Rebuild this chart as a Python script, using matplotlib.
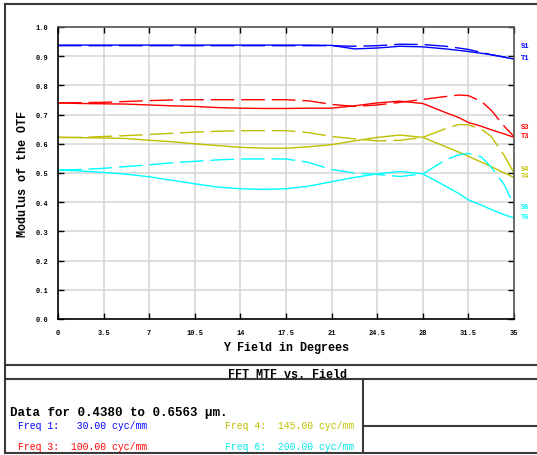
import matplotlib
matplotlib.use("Agg")
import matplotlib.pyplot as plt
from matplotlib.lines import Line2D

# field positions (degrees)
field = [0, 1.75, 3.5, 5.25, 7, 8.75, 10.5, 12.25, 14, 15.75, 17.5, 19.25, 21,
         22.75, 24.5, 26.25, 28, 29.75, 30.75, 31.5, 32.5, 33.25, 34.25, 35]

# Freq 1 (30 cyc/mm)
f1_tan = [0.938, 0.938, 0.938, 0.938, 0.938, 0.938, 0.938, 0.938, 0.938, 0.938, 0.938, 0.938, 0.937,
          0.925, 0.928, 0.934, 0.932, 0.925, 0.920, 0.916, 0.910, 0.905, 0.897, 0.890]
f1_sag = [0.936, 0.936, 0.936, 0.936, 0.936, 0.936, 0.936, 0.936, 0.936, 0.936, 0.936, 0.936, 0.936,
          0.934, 0.936, 0.941, 0.940, 0.934, 0.928, 0.923, 0.913, 0.905, 0.897, 0.890]
# Freq 3 (100 cyc/mm)
f3_tan = [0.740, 0.738, 0.737, 0.736, 0.733, 0.730, 0.728, 0.724, 0.722, 0.721, 0.721, 0.722, 0.722,
          0.730, 0.740, 0.746, 0.738, 0.707, 0.690, 0.673, 0.660, 0.648, 0.634, 0.622]
f3_sag = [0.740, 0.741, 0.742, 0.745, 0.748, 0.750, 0.751, 0.751, 0.751, 0.751, 0.751, 0.747, 0.735,
          0.728, 0.733, 0.742, 0.752, 0.762, 0.767, 0.765, 0.745, 0.715, 0.660, 0.625]
# Freq 4 (145 cyc/mm)
f4_tan = [0.622, 0.621, 0.620, 0.618, 0.612, 0.607, 0.600, 0.594, 0.588, 0.585, 0.585, 0.590, 0.597,
          0.610, 0.622, 0.630, 0.622, 0.590, 0.572, 0.557, 0.537, 0.522, 0.500, 0.485]
f4_sag = [0.622, 0.622, 0.625, 0.628, 0.632, 0.636, 0.640, 0.643, 0.645, 0.645, 0.645, 0.638, 0.625,
          0.617, 0.610, 0.612, 0.622, 0.652, 0.666, 0.665, 0.650, 0.625, 0.560, 0.500]
# Freq 6 (200 cyc/mm)
f6_tan = [0.510, 0.507, 0.502, 0.496, 0.487, 0.475, 0.463, 0.452, 0.446, 0.444, 0.446, 0.455, 0.470,
          0.485, 0.497, 0.505, 0.497, 0.455, 0.430, 0.408, 0.390, 0.375, 0.357, 0.346]
f6_sag = [0.510, 0.512, 0.516, 0.522, 0.528, 0.535, 0.540, 0.545, 0.548, 0.548, 0.548, 0.536, 0.512,
          0.500, 0.495, 0.488, 0.497, 0.545, 0.562, 0.567, 0.555, 0.520, 0.460, 0.390]

series = [
    ("1", "#0000ff", f1_tan, f1_sag, 0.935, 0.897),
    ("3", "#ff0000", f3_tan, f3_sag, 0.658, 0.627),
    ("4", "#bfbf00", f4_tan, f4_sag, 0.517, 0.490),
    ("6", "#00ffff", f6_tan, f6_sag, 0.384, 0.350),
]

xticks = [0, 3.5, 7, 10.5, 14, 17.5, 21, 24.5, 28, 31.5, 35]
xticklabels = ["0", "3.5", "7", "10.5", "14", "17.5", "21", "24.5", "28", "31.5", "35"]
yticks = [0.0, 0.1, 0.2, 0.3, 0.4, 0.5, 0.6, 0.7, 0.8, 0.9, 1.0]

legend_rows = [
    ("Freq 1:   30.00 cyc/mm", "#0000ff", 18, 426),
    ("Freq 3:  100.00 cyc/mm", "#ff0000", 18, 447),
    ("Freq 4:  145.00 cyc/mm", "#bfbf00", 225, 426),
    ("Freq 6:  200.00 cyc/mm", "#00e8e8", 225, 447),
]

W, H = 537, 456
mono = "Liberation Mono"

def fx(px):
    return px / W

def fy(py):
    return 1 - py / H

fig = plt.figure(figsize=(W / 100, H / 100), dpi=100)
ax = fig.add_axes([fx(58), fy(320), fx(514) - fx(58), fy(28) - fy(320)])

for name, col, tan, sag, ys, yt in series:
    ax.plot(field, tan, color=col, lw=1.0, solid_capstyle="butt")
    ax.plot(field, sag, color=col, lw=1.0, dashes=(17, 5))
    ax.text(35.5, ys, "S" + name, color=col, fontsize=5, fontweight="bold",
            family=mono, va="center", ha="left", clip_on=False)
    ax.text(35.5, yt, "T" + name, color=col, fontsize=5, fontweight="bold",
            family=mono, va="center", ha="left", clip_on=False)

ax.set_xlim(0, 35)
ax.set_ylim(0, 1.0)
ax.set_xticks(xticks)
ax.set_xticklabels(xticklabels)
ax.set_yticks(yticks)
ax.set_yticklabels([f"{v:.1f}" for v in yticks])
ax.grid(True, color="#d8d8d8", lw=1.2)
ax.set_axisbelow(True)
ax.tick_params(direction="in", length=4, width=1, top=True, right=True,
               labelsize=5, pad=7)
for lbl in ax.get_xticklabels() + ax.get_yticklabels():
    lbl.set_fontweight("bold")
    lbl.set_family(mono)
ax.spines["top"].set_color("#555555")
ax.spines["right"].set_color("#555555")
for s in ax.spines.values():
    s.set_linewidth(1.2)

ax.set_xlabel("Y Field in Degrees", fontsize=8.5, fontweight="bold", family=mono, labelpad=4)
ax.set_ylabel("Modulus of the OTF", fontsize=8.5, fontweight="bold", family=mono, labelpad=5)

# frame and text block
frame = [
    ([5, 537], [5, 5]),
    ([5, 5], [5, 454]),
    ([5, 537], [454, 454]),
    ([5, 537], [365.5, 365.5]),
    ([5, 537], [380, 380]),
    ([363, 363], [380, 454]),
    ([363, 537], [427, 427]),
]
for xs, ys in frame:
    fig.add_artist(Line2D([fx(x) for x in xs], [fy(y) for y in ys],
                          color="#3a3a3a", lw=1.5))

fig.text(fx(287), fy(375), "FFT MTF vs. Field", ha="center", va="center",
         fontsize=8.5, fontweight="bold", family=mono)
fig.text(fx(10), fy(413), "Data for 0.4380 to 0.6563 \u00b5m.", ha="left", va="center",
         fontsize=9, fontweight="bold", family=mono)
for txt, col, x, y in legend_rows:
    fig.text(fx(x), fy(y), txt, color=col, ha="left", va="center",
             fontsize=7, family=mono)

fig.savefig("out.png", dpi=100)
